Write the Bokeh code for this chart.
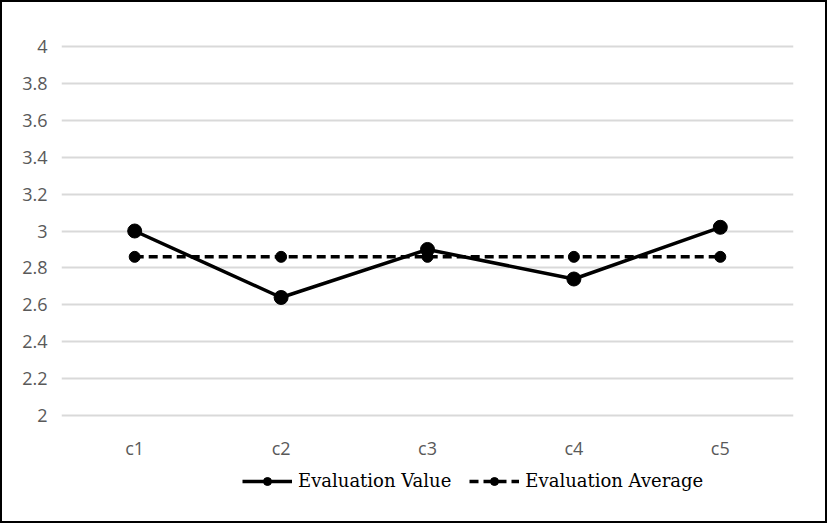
from bokeh.plotting import figure
from bokeh.layouts import column
from bokeh.models import Range1d, Legend, LegendItem, FixedTicker
from bokeh.embed import file_html
from bokeh.resources import INLINE

categories = ["c1", "c2", "c3", "c4", "c5"]
evaluation_value = [3.00, 2.64, 2.90, 2.74, 3.02]
evaluation_average = [2.86, 2.86, 2.86, 2.86, 2.86]
y_ticks = [2, 2.2, 2.4, 2.6, 2.8, 3, 3.2, 3.4, 3.6, 3.8, 4]

BORDER = "2px solid black"

# main chart
p = figure(x_range=categories, y_range=Range1d(1.99, 4.01), width=827, height=460,
           output_backend="svg", toolbar_location=None,
           min_border_left=59, min_border_right=36, min_border_top=42, min_border_bottom=41)
p.styles = {"border-top": BORDER, "border-left": BORDER, "border-right": BORDER}
p.outline_line_color = None
p.background_fill_color = "white"
p.border_fill_color = "white"

p.xgrid.grid_line_color = None
p.ygrid.grid_line_color = "#d9d9d9"
p.ygrid.grid_line_width = 2
p.yaxis.ticker = FixedTicker(ticks=y_ticks)

for ax in (p.xaxis, p.yaxis):
    ax.axis_line_color = None
    ax.major_tick_line_color = None
    ax.minor_tick_line_color = None
    ax.major_label_text_font = "Open Sans"
    ax.major_label_text_font_size = "18px"
    ax.major_label_text_color = "#595959"
p.yaxis.major_label_standoff = 8
p.xaxis.major_label_standoff = 12

p.line(categories, evaluation_value, line_color="black", line_width=3.5)
p.scatter(categories, evaluation_value, size=14, color="black")
p.line(categories, evaluation_average, line_color="black", line_width=3.5, line_dash="9 5")
p.scatter(categories, evaluation_average, size=11, color="black")

# legend strip
q = figure(x_range=categories, y_range=Range1d(0, 1), width=827, height=63,
           output_backend="svg", toolbar_location=None,
           x_axis_location=None, y_axis_location=None,
           min_border_left=0, min_border_right=0, min_border_top=0, min_border_bottom=0)
q.styles = {"border-bottom": BORDER, "border-left": BORDER, "border-right": BORDER}
q.outline_line_color = None
q.grid.grid_line_color = None
q.background_fill_color = "white"
q.border_fill_color = "white"

l1 = q.line(categories, evaluation_value, line_color="black", line_width=3.5)
s1 = q.scatter(categories, evaluation_value, size=14, color="black")
l2 = q.line(categories, evaluation_average, line_color="black", line_width=3.5, line_dash="9 5")
s2 = q.scatter(categories, evaluation_average, size=11, color="black")

legend = Legend(items=[LegendItem(label="Evaluation Value", renderers=[l1, s1]),
                       LegendItem(label="Evaluation Average", renderers=[l2, s2])],
                orientation="horizontal", location=(181, 32),
                label_text_font="DejaVu Serif", label_text_font_size="18px",
                label_text_color="black", glyph_width=50, glyph_height=20,
                border_line_color=None, background_fill_alpha=0,
                spacing=18, padding=0, margin=0, label_standoff=6)
q.add_layout(legend)

layout = column(p, q, spacing=0)
open("out.html", "w").write(file_html(layout, INLINE))
